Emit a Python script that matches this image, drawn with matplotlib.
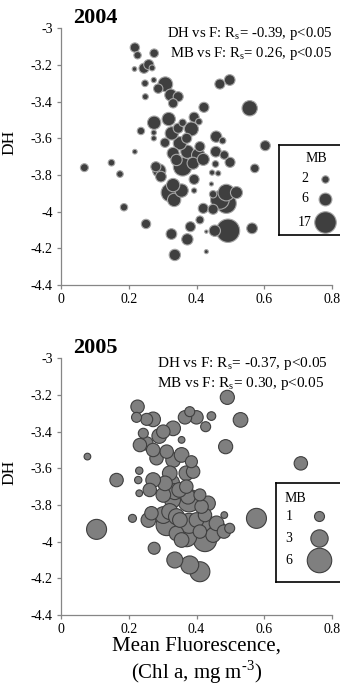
import numpy as np
import matplotlib
matplotlib.use("Agg")
import matplotlib.pyplot as plt
from matplotlib.ticker import FuncFormatter

plt.rcParams["font.family"] = ["Liberation Serif", "DejaVu Serif"]
plt.rcParams["mathtext.fontset"] = "custom"
plt.rcParams["mathtext.rm"] = "Liberation Serif"
plt.rcParams["axes.unicode_minus"] = False

# ---- 2004: mean fluorescence, DH, MB (bubble size) ----
f_2004 = [0.218, 0.226, 0.275, 0.217, 0.245, 0.259, 0.269, 0.248, 0.274, 0.287,
          0.308, 0.249, 0.324, 0.331, 0.346, 0.469, 0.498, 0.557, 0.422, 0.359,
          0.393, 0.407, 0.318, 0.275, 0.236, 0.274, 0.274, 0.307, 0.327, 0.346,
          0.385, 0.351, 0.371, 0.373, 0.410, 0.458, 0.477, 0.457, 0.482, 0.499,
          0.603, 0.572, 0.218, 0.069, 0.149, 0.174, 0.186, 0.280, 0.290, 0.295,
          0.359, 0.341, 0.331, 0.405, 0.390, 0.393, 0.420, 0.456, 0.446, 0.464,
          0.323, 0.331, 0.356, 0.334, 0.393, 0.444, 0.449, 0.488, 0.518, 0.469,
          0.488, 0.420, 0.449, 0.410, 0.382, 0.251, 0.326, 0.373, 0.336, 0.429,
          0.493, 0.454, 0.564, 0.429]
dh_2004 = [-3.105, -3.147, -3.136, -3.222, -3.218, -3.198, -3.216, -3.300, -3.282, -3.329,
           -3.305, -3.373, -3.364, -3.409, -3.373, -3.304, -3.282, -3.436, -3.431, -3.515,
           -3.485, -3.509, -3.495, -3.515, -3.560, -3.569, -3.600, -3.624, -3.573, -3.545,
           -3.549, -3.627, -3.600, -3.673, -3.645, -3.591, -3.613, -3.673, -3.691, -3.731,
           -3.640, -3.764, -3.673, -3.760, -3.733, -3.795, -3.976, -3.755, -3.776, -3.809,
           -3.755, -3.718, -3.682, -3.691, -3.736, -3.824, -3.715, -3.740, -3.787, -3.791,
           -3.896, -3.855, -3.885, -3.936, -3.885, -3.849, -3.905, -3.896, -3.896, -3.936,
           -3.955, -3.982, -3.987, -4.045, -4.082, -4.067, -4.122, -4.151, -4.236, -4.218,
           -4.104, -4.104, -4.091, -4.109]
mb_2004 = [3.2, 2.0, 2.7, 0.8, 3.7, 3.7, 1.3, 1.6, 1.0, 3.2,
           7.9, 1.3, 5.3, 3.2, 3.7, 3.7, 4.2, 8.6, 3.7, 2.0,
           3.7, 1.6, 6.5, 6.5, 2.0, 1.0, 1.0, 3.2, 6.5, 3.7,
           7.2, 6.5, 3.7, 6.5, 3.7, 4.7, 1.6, 4.2, 2.7, 3.7,
           3.7, 2.7, 0.8, 2.3, 1.6, 1.6, 2.0, 3.7, 6.5, 4.2,
           12.7, 4.7, 5.3, 6.5, 5.3, 3.7, 5.3, 1.6, 1.0, 1.0,
           12.7, 6.5, 6.5, 6.5, 1.0, 0.6, 2.0, 10.1, 5.3, 12.7,
           14.6, 3.7, 3.7, 2.3, 3.7, 3.2, 4.2, 4.7, 4.7, 0.6,
           20.0, 4.7, 4.2, 0.4]

# ---- 2005 ----
f_2005 = [0.491, 0.444, 0.530, 0.486, 0.708, 0.577, 0.482, 0.078, 0.105, 0.164,
          0.211, 0.228, 0.231, 0.231, 0.223, 0.226, 0.253, 0.272, 0.233, 0.252,
          0.243, 0.290, 0.302, 0.331, 0.366, 0.400, 0.380, 0.427, 0.356, 0.272,
          0.282, 0.312, 0.331, 0.356, 0.385, 0.390, 0.370, 0.321, 0.307, 0.272,
          0.262, 0.326, 0.349, 0.370, 0.375, 0.302, 0.329, 0.336, 0.378, 0.341,
          0.410, 0.434, 0.415, 0.258, 0.267, 0.302, 0.321, 0.312, 0.351, 0.378,
          0.400, 0.425, 0.429, 0.459, 0.464, 0.449, 0.425, 0.371, 0.341, 0.356,
          0.410, 0.481, 0.498, 0.275, 0.336, 0.380, 0.410]
dh_2005 = [-3.213, -3.315, -3.336, -3.482, -3.573, -3.873, -3.855, -3.536, -3.933, -3.664,
           -3.873, -3.664, -3.736, -3.613, -3.322, -3.264, -3.333, -3.333, -3.473, -3.464,
           -3.409, -3.424, -3.400, -3.382, -3.322, -3.322, -3.291, -3.373, -3.445, -3.500,
           -3.545, -3.509, -3.555, -3.527, -3.564, -3.618, -3.627, -3.627, -3.682, -3.664,
           -3.718, -3.678, -3.718, -3.700, -3.755, -3.745, -3.773, -3.727, -3.776, -3.864,
           -3.745, -3.791, -3.809, -3.882, -3.845, -3.855, -3.836, -3.909, -3.882, -3.900,
           -3.882, -3.855, -3.900, -3.900, -3.936, -3.964, -3.991, -3.973, -3.955, -3.991,
           -3.945, -3.945, -3.927, -4.036, -4.100, -4.127, -4.164]
mb_2005 = [2.0, 0.75, 2.15, 2.0, 1.8, 4.0, 0.45, 0.45, 4.0, 1.8,
           0.64, 0.54, 0.45, 0.54, 1.0, 1.8, 1.44, 2.15, 1.8, 1.8,
           1.0, 2.15, 1.8, 2.15, 1.8, 1.8, 1.0, 1.0, 0.45, 1.8,
           1.8, 1.8, 2.15, 2.15, 1.44, 1.8, 2.15, 2.15, 2.15, 2.15,
           1.8, 2.56, 2.15, 1.8, 2.15, 2.15, 2.56, 2.56, 5.1, 2.56,
           1.44, 2.15, 1.8, 2.15, 1.8, 2.8, 2.56, 4.55, 2.15, 4.0,
           2.15, 1.8, 2.8, 2.15, 2.8, 2.15, 5.4, 4.0, 2.15, 2.15,
           1.8, 1.8, 1.0, 1.44, 2.56, 3.24, 4.0]

legend_mb_2004 = [2, 6, 17]
legend_mb_2005 = [1, 3, 6]

stats_2004 = ["DH vs F: R$_{\\mathregular{s}}$= -0.39, p<0.05",
              "MB vs F: R$_{\\mathregular{s}}$= 0.26, p<0.05"]
stats_2005 = ["DH vs F: R$_{\\mathregular{s}}$= -0.37, p<0.05",
              "MB vs F: R$_{\\mathregular{s}}$= 0.30, p<0.05"]

W, H = 340, 685
fig = plt.figure(figsize=(W / 100, H / 100), dpi=100)


def px_axes(x0, y0, x1, y1):
    return fig.add_axes([x0 / W, 1 - y1 / H, (x1 - x0) / W, (y1 - y0) / H])


def panel(top, f, dh, mb, scale, face, edge, year, stats, stats_x, stats_ha,
          stats_size, leg_box, leg_mb, leg_rows):
    ax = px_axes(61, top, 332, top + 256.7)
    order = np.argsort(mb)[::-1]
    ax.scatter(np.array(f)[order], np.array(dh)[order],
               s=np.array(mb)[order] * scale, c=face, edgecolors=edge,
               linewidths=0.8, zorder=3)
    ax.set_xlim(0, 0.8)
    ax.set_ylim(-4.4, -3)
    ax.set_xticks(np.arange(0, 0.81, 0.2))
    ax.set_yticks(np.arange(-4.4, -2.99, 0.2))
    fmt = FuncFormatter(lambda v, p: f"{v:.1f}".rstrip("0").rstrip(".") if abs(v) > 1e-9 else "0")
    ax.xaxis.set_major_formatter(fmt)
    ax.yaxis.set_major_formatter(fmt)
    for s in ("top", "right"):
        ax.spines[s].set_visible(False)
    for s in ("left", "bottom"):
        ax.spines[s].set_color("#868686")
        ax.spines[s].set_linewidth(0.9)
    ax.tick_params(labelsize=10, color="#868686", length=3, width=0.9, pad=3)
    ax.set_ylabel("DH", fontsize=12.5)
    ax.yaxis.set_label_coords(-0.162, 0.557)
    fig.text(95 / W, 1 - (top - 10) / H, year, fontsize=16, fontweight="bold",
             ha="center", va="center")
    ax.text(stats_x, -3.026, stats[0], fontsize=stats_size, ha=stats_ha, va="center")
    ax.text(stats_x, -3.137, stats[1], fontsize=stats_size, ha=stats_ha, va="center")

    # bubble-size key, drawn in its own framed axes (pixel coordinates)
    x0, y0, x1, y1 = leg_box
    lx = px_axes(x0, y0, x1, y1)
    lx.set_xlim(x0, x1)
    lx.set_ylim(y1, y0)
    lx.set_xticks([])
    lx.set_yticks([])
    for s in lx.spines.values():
        s.set_color("black")
        s.set_linewidth(1.2)
    lx.text(leg_rows[0], leg_rows[1], "MB", fontsize=10, ha="center", va="center")
    for v, y in zip(leg_mb, leg_rows[3]):
        lx.text(leg_rows[2], y, str(v), fontsize=10, ha="center", va="center")
        lx.scatter([leg_rows[4]], [y], s=v * scale, c=face, edgecolors=edge,
                   linewidths=0.8, clip_on=False)
    return ax


panel(28.3, f_2004, dh_2004, mb_2004, 14.2, "#3f3f3f", "#a6a6a6", "2004",
      stats_2004, 0.8, "right", 10.6, (279, 145, 350, 235), legend_mb_2004,
      (316, 159, 305, [179, 199, 222], 325))
ax2 = panel(358.3, f_2005, dh_2005, mb_2005, 51.8, "#7f7f7f", "#3f3f3f", "2005",
            stats_2005, 0.283, "left", 11, (276, 483, 350, 582), legend_mb_2005,
            (295, 498, 289, [516, 538, 560], 319))
ax2.set_xlabel("Mean Fluorescence,\n(Chl a, mg m$^{\\mathregular{\\text{-}3}}$)",
               fontsize=15, linespacing=1.15)
ax2.xaxis.set_label_coords(0.5, -0.085)

fig.savefig("out.png", dpi=100)
